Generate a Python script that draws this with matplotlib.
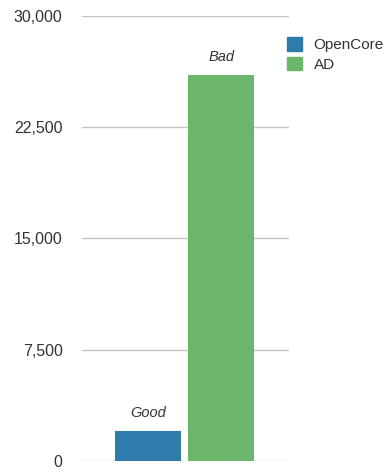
import matplotlib
matplotlib.use("Agg")
import matplotlib.pyplot as plt
from matplotlib.patches import Patch

series = ["OpenCore", "AD"]
values = [2000, 26000]
annotations = ["Good", "Bad"]
colors = ["#2f7bab", "#6bb66a"]
yticks = [0, 7500, 15000, 22500, 30000]

W, H = 389, 472
fig = plt.figure(figsize=(W/100, H/100), dpi=100)
ax = fig.add_axes([82/W, (H-461)/H, (289-82)/W, (461-16)/H])

xs = [0, 1]
ax.bar(xs, values, width=0.904, color=colors, zorder=3)
for x, v, t in zip(xs, values, annotations):
    ax.annotate(t, (x, v), xytext=(0, 8), textcoords="offset points",
                ha="center", va="bottom", fontsize=10.5, style="italic",
                family="Liberation Sans", color="#333333")

ax.set_xlim(-0.904, 1.93)
ax.set_ylim(0, 30000)
ax.set_yticks(yticks)
ax.set_yticklabels([f"{v:,}" for v in yticks], family="Liberation Sans",
                   fontsize=11.5, color="#333333")
ax.tick_params(axis="y", length=0, pad=14)
ax.set_xticks([])
for s in ax.spines.values():
    s.set_visible(False)
ax.grid(axis="y", color="#c4c4c4", linewidth=1, zorder=0)
ax.set_axisbelow(True)

handles = [Patch(color=c) for c in colors]
fig.legend(handles, series, loc="upper left", bbox_to_anchor=(287/W, 1 - 37/H),
           frameon=False, prop={"family": "Liberation Sans", "size": 11},
           labelcolor="#333333",
           handlelength=1.0, handleheight=1.0, handletextpad=0.75, labelspacing=0.3,
           borderaxespad=0, borderpad=0)
fig.savefig("out.png", dpi=100)
